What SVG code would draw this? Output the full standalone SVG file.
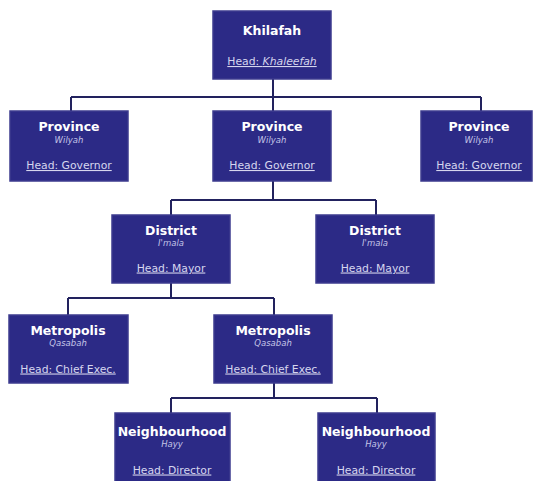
<svg xmlns="http://www.w3.org/2000/svg" width="533" height="481" viewBox="0 0 533 481">
<style>
.box{fill:#2c2a86;stroke:#3c3b8e;stroke-width:1.5}
.t{font-family:"DejaVu Sans",Verdana,sans-serif;font-weight:bold;font-size:12.5px;fill:#ffffff;text-anchor:middle}
.s{font-family:"DejaVu Sans",Verdana,sans-serif;font-style:italic;font-size:8.5px;fill:#c4c4e6;text-anchor:middle}
.h{font-family:"DejaVu Sans",Verdana,sans-serif;font-size:10.8px;fill:#d6d6ee;text-anchor:middle;text-decoration:underline}
.c{fill:none;stroke:#22225e;stroke-width:2}
</style>
<rect width="533" height="481" fill="#ffffff"/>
<g id="connectors">
<path class="c" d="M273 79V97M71 97H481M71 97V111M273 97V111M481 97V111"/>
<path class="c" d="M273 181V200M171 200H376M171 200V215M376 200V215"/>
<path class="c" d="M171 283V298M68 298H274M68 298V315M274 298V315"/>
<path class="c" d="M274 383V398M171 398H377M171 398V413M377 398V413"/>
</g>
<g id="khilafah">
<rect class="box" x="213" y="11" width="118" height="68"/>
<text class="t" x="272" y="35">Khilafah</text>
<text class="h" x="272" y="65">Head: <tspan font-style="italic">Khaleefah</tspan></text>
</g>
<g id="province1">
<rect class="box" x="10" y="111" width="118" height="70"/>
<text class="t" x="69" y="131">Province</text>
<text class="s" x="69" y="143">Wilyah</text>
<text class="h" x="69" y="169">Head: Governor</text>
</g>
<g id="province2">
<rect class="box" x="213" y="111" width="118" height="70"/>
<text class="t" x="272" y="131">Province</text>
<text class="s" x="272" y="143">Wilyah</text>
<text class="h" x="272" y="169">Head: Governor</text>
</g>
<g id="province3">
<rect class="box" x="421" y="111" width="111" height="70"/>
<text class="t" x="479" y="131">Province</text>
<text class="s" x="479" y="143">Wilyah</text>
<text class="h" x="479" y="169">Head: Governor</text>
</g>
<g id="district1">
<rect class="box" x="112" y="215" width="118" height="68"/>
<text class="t" x="171" y="235">District</text>
<text class="s" x="171" y="246">I'mala</text>
<text class="h" x="171" y="271.5">Head: Mayor</text>
</g>
<g id="district2">
<rect class="box" x="316" y="215" width="118" height="68"/>
<text class="t" x="375" y="235">District</text>
<text class="s" x="375" y="246">I'mala</text>
<text class="h" x="375" y="271.5">Head: Mayor</text>
</g>
<g id="metropolis1">
<rect class="box" x="9" y="315" width="119" height="68"/>
<text class="t" x="68" y="335">Metropolis</text>
<text class="s" x="68" y="346">Qasabah</text>
<text class="h" x="68" y="372.5">Head: Chief Exec.</text>
</g>
<g id="metropolis2">
<rect class="box" x="214" y="315" width="118" height="68"/>
<text class="t" x="273" y="335">Metropolis</text>
<text class="s" x="273" y="346">Qasabah</text>
<text class="h" x="273" y="372.5">Head: Chief Exec.</text>
</g>
<g id="neighbourhood1">
<rect class="box" x="115" y="413" width="115" height="70"/>
<text class="t" x="172" y="436">Neighbourhood</text>
<text class="s" x="172" y="447">Hayy</text>
<text class="h" x="172" y="473.5">Head: Director</text>
</g>
<g id="neighbourhood2">
<rect class="box" x="318" y="413" width="117" height="70"/>
<text class="t" x="376" y="436">Neighbourhood</text>
<text class="s" x="376" y="447">Hayy</text>
<text class="h" x="376" y="473.5">Head: Director</text>
</g>
</svg>
